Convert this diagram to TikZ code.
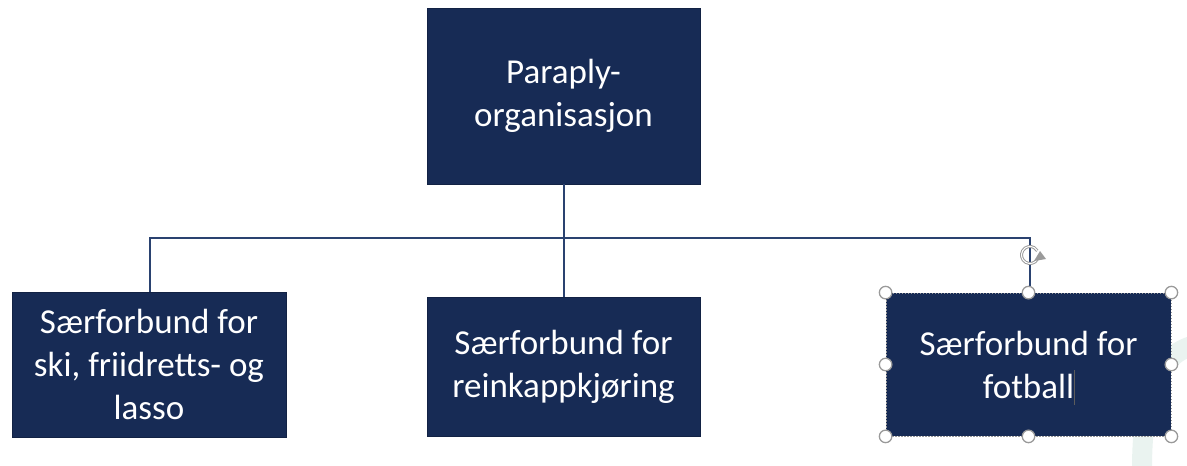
\documentclass[tikz,border=0pt]{standalone}
\usepackage{fontspec}
\setmainfont{Carlito}
\usetikzlibrary{arrows.meta}
\definecolor{boxnavy}{HTML}{172B55}
\definecolor{linenavy}{HTML}{2A4270}
\definecolor{handlegray}{HTML}{9A9A9A}
\definecolor{wmark}{HTML}{EAF3F0}
\tikzset{
  orgbox/.style={rectangle, fill=boxnavy, draw=boxnavy!80!black, line width=0.8pt,
    text=white, align=center, inner sep=0pt,
    font=\fontsize{35}{43}\selectfont},
  conn/.style={draw=linenavy, line width=1.6pt},
  handle/.style={circle, draw=handlegray, fill=white, line width=1.3pt, minimum size=12.5pt, inner sep=0pt}
}
\begin{document}
\begin{tikzpicture}[x=1pt,y=-1pt]
\useasboundingbox (0,0) rectangle (1187,466);
% faint watermark
\draw[wmark, line width=20pt] (1142,470) .. controls (1142,400) and (1155,355) .. (1195,345);
% boxes
\node[orgbox, minimum width=273pt, minimum height=176pt] (top) at (563.5,96) {Paraply-\\organisasjon};
\node[orgbox, minimum width=274pt, minimum height=145pt] (left) at (149,364.5) {Særforbund for\\ski, friidretts- og\\lasso};
\node[orgbox, minimum width=273pt, minimum height=139pt] (mid) at (563.5,366.5) {Særforbund for\\reinkappkjøring};
\node[orgbox, minimum width=285pt, minimum height=143pt, draw=handlegray, dashed, dash pattern=on 1.5pt off 1.5pt] (right) at (1028.5,364.5) {Særforbund for\\fotball};
% connectors
\coordinate (j) at (564,238);
\draw[conn] (top.south -| j) -- (j);
\draw[conn] (j) -- (mid.north -| j);
\draw[conn] (j) -| (left.north -| 150,0);
\draw[conn] (j) -| (right.north -| 1030,0);
% text cursor
\draw[handlegray!60!black, line width=0.8pt] (1074,370) -- (1074,405);
% rotation handle
\draw[handlegray, line width=3pt] (1030,255) ++(30:8.5) arc (30:330:8.5);
\draw[white, line width=1pt] (1030,255) ++(30:8.5) arc (30:330:8.5);
\fill[handlegray] (1040,251) -- (1046,259) -- (1034,261) -- cycle;
% selection handles
\foreach \a in {north west, north, north east, west, east, south west, south, south east}
  \node[handle] (h\a) at (right.\a) {};
\end{tikzpicture}
\end{document}
